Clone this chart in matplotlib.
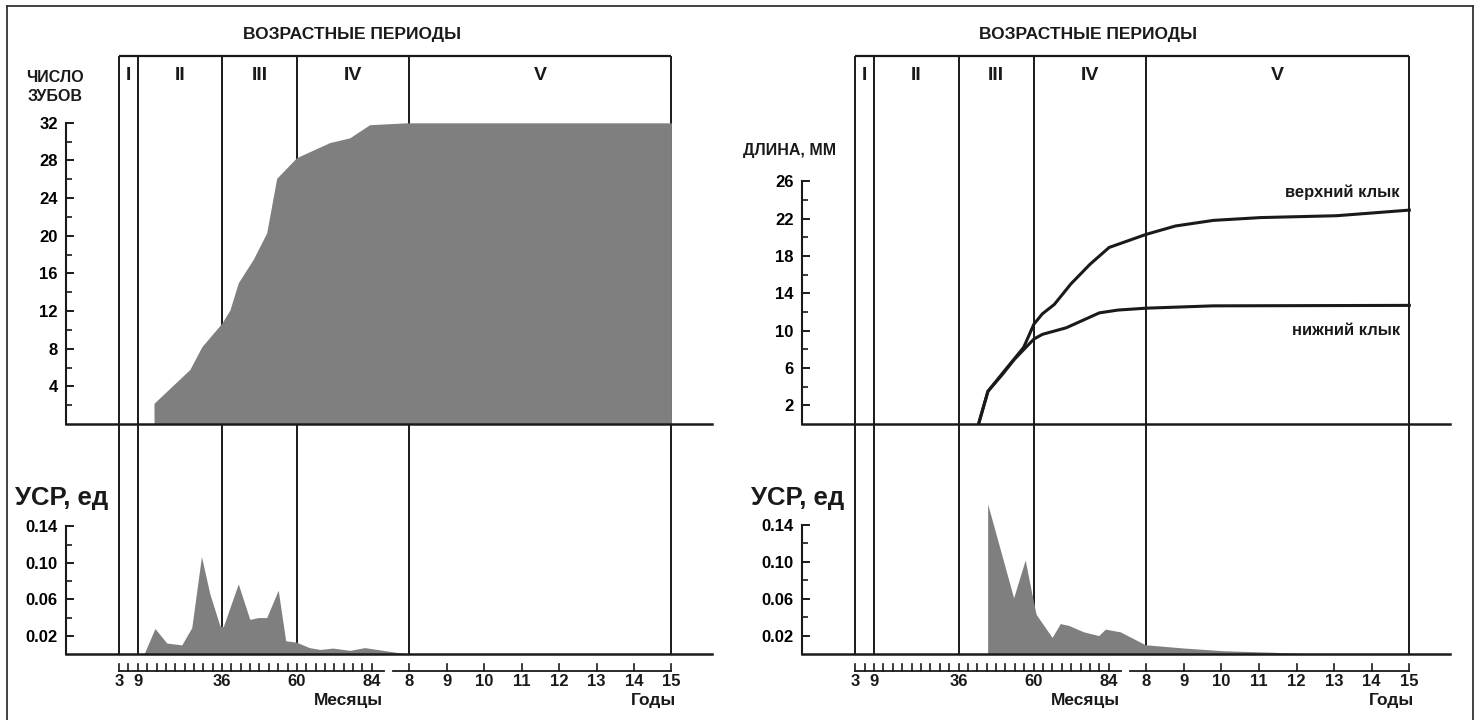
import matplotlib
matplotlib.use("Agg")
import matplotlib.pyplot as plt
from matplotlib import transforms as mtransforms
from matplotlib.lines import Line2D

# ---------------- data ----------------
period_bounds = [3, 9, 36, 60, 96, 180]          # months
period_names = ["I", "II", "III", "IV", "V"]
month_ticks = list(range(3, 85, 3))
month_labels = [3, 9, 36, 60, 84]
year_labels = [8, 9, 10, 11, 12, 13, 14, 15]

# left panel: number of teeth
teeth_months = [14.2, 25.7, 29.5, 35.9, 38.5, 41.2, 46.0, 50.3, 53.5, 59.9, 70.5, 76.9, 83.3, 95.0, 180]
teeth_count = [2.2, 5.8, 8.2, 10.7, 12.1, 15.0, 17.5, 20.3, 26.1, 28.3, 29.9, 30.4, 31.8, 32.0, 32.0]

# left panel: УСР
usr_left_months = [11, 14.5, 18.3, 23.1, 26.3, 29.4, 32.1, 35.3, 36.4, 41.2, 44.9, 47.6, 50.3,
                   54.0, 56.4, 59.8, 64.0, 67.4, 71.5, 77.0, 81.7, 87.6, 95.5]
usr_left = [0.0, 0.028, 0.012, 0.010, 0.029, 0.107, 0.066, 0.031, 0.030, 0.077, 0.038, 0.040, 0.040,
            0.070, 0.0145, 0.013, 0.007, 0.005, 0.0065, 0.004, 0.007, 0.004, 0.0]

# right panel: canine length, mm
upper_months = [42.4, 45.4, 50.7, 56.8, 60.1, 62.8, 66.6, 71.9, 78.0, 84.1, 95.9, 105.3, 117.4, 132.5, 156.8, 180]
upper_len = [0.0, 3.5, 5.7, 8.2, 10.7, 11.8, 12.8, 15.0, 17.1, 18.9, 20.3, 21.2, 21.8, 22.1, 22.3, 22.9]
lower_months = [42.4, 45.4, 50.0, 53.8, 57.5, 60.1, 62.8, 70.4, 81.0, 87.0, 95.9, 117.4, 180]
lower_len = [0.0, 3.5, 5.3, 6.9, 8.2, 9.1, 9.6, 10.3, 11.9, 12.2, 12.4, 12.65, 12.7]

# right panel: УСР
usr_right_months = [45.3, 53.6, 57.3, 59.8, 60.8, 65.9, 68.5, 71.2, 76.0, 80.8, 82.9, 87.7, 95.7,
                    107.9, 120.7, 135.6, 150]
usr_right = [0.163, 0.061, 0.102, 0.059, 0.043, 0.018, 0.033, 0.031, 0.024, 0.020, 0.027, 0.024, 0.010,
             0.0065, 0.0035, 0.002, 0.0]

header_text = "ВОЗРАСТНЫЕ ПЕРИОДЫ"
usr_label = "УСР, ед"
usr_major = [0.02, 0.06, 0.10, 0.14]
usr_minor = [0.04, 0.08, 0.12]

# ---------------- style / layout ----------------
W, H = 1481, 720
LINE = "#1a1a1a"
FILL = "#7f7f7f"
plt.rcParams["font.family"] = ["Liberation Sans", "DejaVu Sans"]
plt.rcParams["font.weight"] = "bold"
TICK_FS = 12
LAB_FS = 12.5

fig = plt.figure(figsize=(W / 100, H / 100), dpi=100)
fig.patch.set_facecolor("white")


def fbox(x0, y0, x1, y1):
    return [x0 / W, 1 - y1 / H, (x1 - x0) / W, (y1 - y0) / H]


TOP_Y0, SPLIT_Y, BOT_Y1 = 56, 424, 654
HT = SPLIT_Y - TOP_Y0
HB = BOT_Y1 - SPLIT_Y
XLIM = (-14, 193)


def style_axes(ax):
    ax.set_xlim(*XLIM)
    ax.patch.set_alpha(0)
    ax.spines["top"].set_visible(False)
    ax.spines["right"].set_visible(False)
    ax.spines["left"].set_linewidth(1.5)
    ax.spines["bottom"].set_linewidth(1.8)
    ax.spines["left"].set_color(LINE)
    ax.spines["bottom"].set_color(LINE)
    ax.set_xticks([])
    ax.tick_params(axis="y", which="major", direction="in", length=6, width=1.4,
                   labelsize=TICK_FS, pad=6, color=LINE)
    ax.tick_params(axis="y", which="minor", direction="in", length=4, width=1.2, color=LINE)


def make_panel(x0, x1, top_ylim, top_max, top_major, top_minor, bot_ylim):
    axT = fig.add_axes(fbox(x0, TOP_Y0, x1, SPLIT_Y))
    axB = fig.add_axes(fbox(x0, SPLIT_Y, x1, BOT_Y1))
    for ax in (axT, axB):
        style_axes(ax)
    axT.set_ylim(0, top_ylim)
    axB.set_ylim(0, bot_ylim)
    axT.spines["left"].set_bounds(0, top_max)
    axB.spines["left"].set_bounds(0, 0.14)
    axT.set_yticks(top_major)
    axT.set_yticklabels([str(v) for v in top_major])
    axT.set_yticks(top_minor, minor=True)
    axB.set_yticks(usr_major)
    axB.set_yticklabels([f"{v:.2f}" for v in usr_major])
    axB.set_yticks(usr_minor, minor=True)

    # period lines and box
    axT.vlines(period_bounds, 0, top_ylim, colors=LINE, lw=1.4, zorder=1)
    axT.hlines(top_ylim, period_bounds[0], period_bounds[-1], colors=LINE, lw=1.6,
               zorder=1, clip_on=False)
    axB.vlines(period_bounds, 0, bot_ylim, colors=LINE, lw=1.4, zorder=1)

    trT = mtransforms.blended_transform_factory(axT.transData, axT.transAxes)
    for i, name in enumerate(period_names):
        c = (period_bounds[i] + period_bounds[i + 1]) / 2
        axT.text(c, 1 - 19 / HT, name, transform=trT, ha="center", va="center",
                 fontsize=14, weight="bold", color=LINE)
    axT.text(77.5, 1 + 22 / HT, header_text, transform=trT, ha="center", va="center",
             fontsize=12.5, weight="bold", color=LINE, clip_on=False)

    # lower scale (months / years)
    trB = mtransforms.blended_transform_factory(axB.transData, axB.transAxes)
    yl = -(671 - BOT_Y1) / HB
    yt = -(664 - BOT_Y1) / HB
    ylab = -(681 - BOT_Y1) / HB
    ytitle = -(700 - BOT_Y1) / HB
    axB.add_line(Line2D([3, 88], [yl, yl], transform=trB, color=LINE, lw=1.3, clip_on=False))
    axB.add_line(Line2D([90.7, 180], [yl, yl], transform=trB, color=LINE, lw=1.3, clip_on=False))
    for m in month_ticks:
        axB.add_line(Line2D([m, m], [yl, yt], transform=trB, color=LINE, lw=1.2, clip_on=False))
    for m in month_labels:
        axB.text(m, ylab, str(m), transform=trB, ha="center", va="center", fontsize=TICK_FS,
                 weight="bold", color=LINE, clip_on=False)
    for y in year_labels:
        m = 12 * y
        axB.add_line(Line2D([m, m], [yl, yt], transform=trB, color=LINE, lw=1.2, clip_on=False))
        axB.text(m, ylab, str(y), transform=trB, ha="center", va="center", fontsize=TICK_FS,
                 weight="bold", color=LINE, clip_on=False)
    axB.text(87.5, ytitle, "Месяцы", transform=trB, ha="right", va="center", fontsize=LAB_FS,
             weight="bold", color=LINE, clip_on=False)
    axB.text(181.5, ytitle, "Годы", transform=trB, ha="right", va="center", fontsize=LAB_FS,
             weight="bold", color=LINE, clip_on=False)
    return axT, axB


# ---------------- left panel ----------------
axT1, axB1 = make_panel(66, 712, 39.1, 32, list(range(4, 33, 4)), list(range(2, 31, 4)), 0.2525)
axT1.fill_between(teeth_months, 0, teeth_count, color=FILL, lw=0, zorder=2)
axB1.fill_between(usr_left_months, 0, usr_left, color=FILL, lw=0, zorder=2)
fig.text(55 / W, 1 - 87 / H, "ЧИСЛО\nЗУБОВ", ha="center", va="center", fontsize=11.5,
         weight="bold", color=LINE, linespacing=1.4)
fig.text(62 / W, 1 - 498 / H, usr_label, ha="center", va="center", fontsize=18.5,
         weight="bold", color=LINE)

# ---------------- right panel ----------------
axT2, axB2 = make_panel(802, 1450, 39.4, 26, list(range(2, 27, 4)), list(range(4, 25, 4)), 0.2496)
axT2.plot(upper_months, upper_len, color=LINE, lw=2.2, zorder=3, solid_joinstyle="round")
axT2.plot(lower_months, lower_len, color=LINE, lw=2.2, zorder=3, solid_joinstyle="round")
axT2.text(177, 24.8, "верхний клык", ha="right", va="center", fontsize=12, weight="bold",
          color=LINE)
axT2.text(177, 10.0, "нижний клык", ha="right", va="center", fontsize=12, weight="bold",
          color=LINE)
axB2.fill_between(usr_right_months, 0, usr_right, color=FILL, lw=0, zorder=2)
fig.text(790 / W, 1 - 150 / H, "ДЛИНА, ММ", ha="center", va="center", fontsize=11.5,
         weight="bold", color=LINE)
fig.text(798 / W, 1 - 498 / H, usr_label, ha="center", va="center", fontsize=18.5,
         weight="bold", color=LINE)

# outer frame
for xs, ys in [([7, 7], [6, 722]), ([7, 1473], [6, 6]), ([1473, 1473], [6, 722])]:
    fig.add_artist(Line2D([x / W for x in xs], [1 - y / H for y in ys], color="#333333",
                          lw=1.3, transform=fig.transFigure))

fig.savefig("out.png", dpi=100, facecolor="white")
